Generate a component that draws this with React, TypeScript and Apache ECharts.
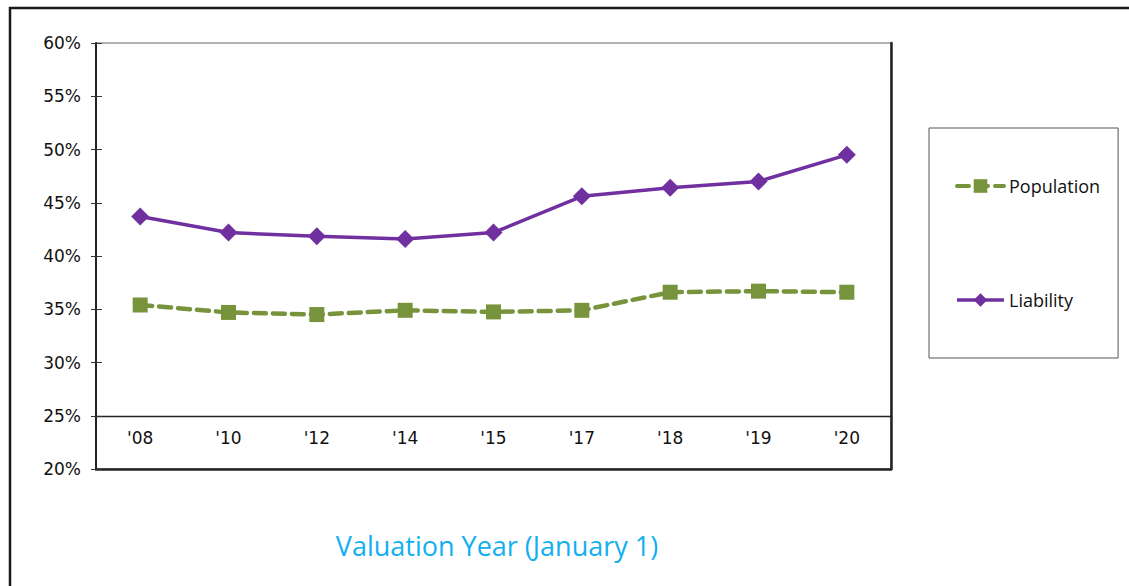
import React, { useEffect, useRef } from "react";
import * as echarts from "echarts";

const categories = ["'08", "'10", "'12", "'14", "'15", "'17", "'18", "'19", "'20"];
const population = [35.4, 34.7, 34.5, 34.9, 34.75, 34.9, 36.6, 36.7, 36.6];
const liability = [43.7, 42.2, 41.85, 41.6, 42.2, 45.6, 46.4, 47.0, 49.5];
const yTicks = { min: 20, max: 60, interval: 5 };
const xTitle = "Valuation Year (January 1)";

export default function App() {
  const ref = useRef<HTMLDivElement>(null);
  useEffect(() => {
    const chart = echarts.init(ref.current!, undefined, { renderer: "svg" });
    const gridLeft = 96, gridTop = 43, gridW = 795, gridH = 426;
    const axisOffset = -(gridH * 5) / (yTicks.max - yTicks.min);
    chart.setOption({
      animation: false,
      backgroundColor: "#fff",
      grid: {
        left: gridLeft, top: gridTop, width: gridW, height: gridH,
        show: true, borderColor: "#666", borderWidth: 1,
      },
      xAxis: [
        {
          type: "category",
          data: categories,
          boundaryGap: true,
          position: "bottom",
          offset: axisOffset,
          axisLine: { lineStyle: { color: "#222", width: 1.3 } },
          axisTick: { inside: true, length: 8, lineStyle: { color: "#333" } },
          axisLabel: { fontFamily: "DejaVu Sans", fontSize: 17, color: "#111", margin: 14 },
        },
        {
          type: "category",
          data: categories,
          position: "bottom",
          axisLine: { lineStyle: { color: "#222", width: 2.5 } },
          axisTick: { show: false },
          axisLabel: { show: false },
        },
      ],
      yAxis: [
        {
          type: "value",
          min: yTicks.min, max: yTicks.max, interval: yTicks.interval,
          axisLine: { show: true, lineStyle: { color: "#222", width: 2 } },
          axisTick: { show: true, length: 5, lineStyle: { color: "#333" } },
          splitLine: { show: false },
          axisLabel: {
            formatter: "{value}%", fontFamily: "DejaVu Sans", fontSize: 17, color: "#111", margin: 15,
          },
        },
        {
          type: "value",
          position: "left",
          min: yTicks.min, max: yTicks.max, interval: yTicks.interval,
          axisLine: { show: false },
          axisTick: { show: true, inside: true, length: 6, lineStyle: { color: "#333" } },
          splitLine: { show: false },
          axisLabel: { show: false },
        },
        {
          type: "value",
          position: "right",
          min: yTicks.min, max: yTicks.max, interval: yTicks.interval,
          axisLine: { show: true, lineStyle: { color: "#222", width: 2.5 } },
          axisTick: { show: false },
          splitLine: { show: false },
          axisLabel: { show: false },
        },
      ],
      legend: {
        orient: "vertical",
        left: 929, top: 128,
        padding: [49, 18, 49, 26],
        itemGap: 96,
        itemWidth: 47,
        itemHeight: 17,
        borderColor: "#555",
        borderWidth: 1,
        textStyle: { fontFamily: "Open Sans", fontSize: 18, color: "#111" },
        data: [
          { name: "Population", lineStyle: { width: 4 } },
          { name: "Liability", lineStyle: { width: 3.5 } },
        ],
      },
      series: [
        {
          name: "Population",
          type: "line",
          data: population,
          symbol: "rect",
          symbolSize: 15,
          itemStyle: { color: "#77933C" },
          lineStyle: { color: "#77933C", width: 4.5, type: [12, 7], cap: "round" },
        },
        {
          name: "Liability",
          type: "line",
          data: liability,
          symbol: "diamond",
          symbolSize: 18,
          itemStyle: { color: "#7030A0" },
          lineStyle: { color: "#7030A0", width: 3.5 },
        },
      ],
      graphic: [
        {
          type: "rect",
          shape: { x: 10, y: 8, width: 1300, height: 800 },
          style: { fill: "none", stroke: "#1a1a1a", lineWidth: 2.5 },
          silent: true,
        },
        {
          type: "text",
          x: 497, y: 545,
          style: {
            text: xTitle, fill: "#12AFEF", fontFamily: "Open Sans", fontSize: 27,
            textAlign: "center", textVerticalAlign: "middle",
          },
        },
      ],
    });
    return () => chart.dispose();
  }, []);
  return (
    <div
      ref={ref}
      style={{ position: "fixed", left: 0, top: 0, width: 1129, height: 586 }}
    />
  );
}
